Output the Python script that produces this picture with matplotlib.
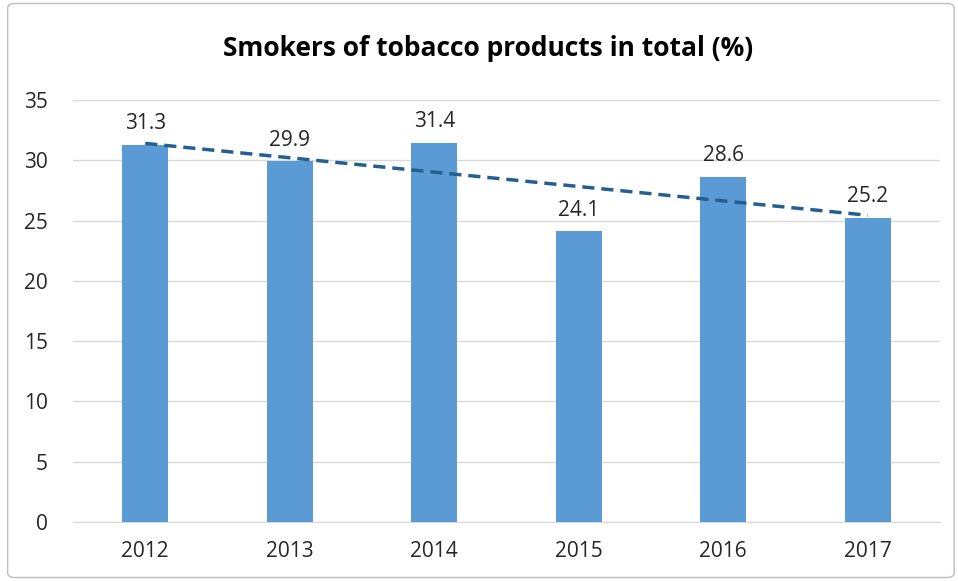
import matplotlib
matplotlib.use("Agg")
import matplotlib.pyplot as plt
import numpy as np
from matplotlib.patches import FancyBboxPatch

years = ["2012", "2013", "2014", "2015", "2016", "2017"]
values = [31.3, 29.9, 31.4, 24.1, 28.6, 25.2]
yticks = [0, 5, 10, 15, 20, 25, 30, 35]

plt.rcParams['font.family'] = ['Open Sans', 'DejaVu Sans']

fig = plt.figure(figsize=(9.58, 5.81), dpi=100)
ax = fig.add_axes([0.0762, 0.1015, 0.905, 0.7265])

x = np.arange(len(years))
ax.bar(x, values, width=0.32, color="#5B9BD5", zorder=3)

# linear trendline
coef = np.polyfit(x, values, 1)
ax.plot(x, np.polyval(coef, x), linestyle=(0, (3.5, 2)), color="#255E91",
        linewidth=2.5, zorder=4)

for xi, v in zip(x, values):
    ax.text(xi, v + 0.9, f"{v:.1f}", ha="center", va="bottom",
            fontsize=15, color="#262626", zorder=5)

ax.set_xlim(-0.5, len(years) - 0.5)
ax.set_ylim(0, 35)
ax.set_yticks(yticks)
ax.set_xticks(x)
ax.set_xticklabels(years)
ax.tick_params(axis="both", length=0, labelsize=15, labelcolor="#262626")
ax.tick_params(axis="y", pad=18)
ax.tick_params(axis="x", pad=14)
ax.grid(axis="y", color="#D9D9D9", linewidth=1, zorder=0)
for s in ["top", "right", "left"]:
    ax.spines[s].set_visible(False)
ax.spines["bottom"].set_color("#D9D9D9")

fig.text(0.509, 0.917, "Smokers of tobacco products in total (%)", ha="center",
         va="center", fontsize=19, fontweight="bold", color="#000000")

border = FancyBboxPatch((0.008, 0.006), 0.988, 0.988, boxstyle="round,pad=0,rounding_size=0.008",
                        transform=fig.transFigure, fill=False, edgecolor="#BFBFBF",
                        linewidth=1)
fig.patches.append(border)

fig.savefig("out.png", dpi=100)
